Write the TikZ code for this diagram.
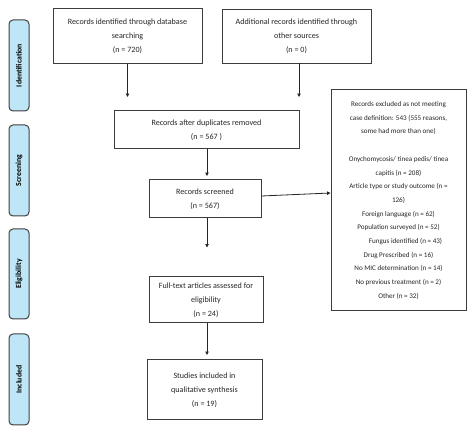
\documentclass[tikz,border=0pt]{standalone}
\usepackage{fontspec}
\setmainfont{Carlito}
\usetikzlibrary{arrows.meta}
\definecolor{sidefill}{RGB}{190,230,246}
\definecolor{boxline}{RGB}{60,60,60}
\begin{document}
\begin{tikzpicture}[x=1pt,y=1pt,
  box/.style={draw=boxline,line width=1pt,fill=white,inner sep=0pt,align=center,
    font=\fontsize{8.1pt}{14pt}\selectfont,text=black!85},
  small/.style={font=\fontsize{7.1pt}{13.7pt}\selectfont},
  side/.style={draw=black!75,line width=1pt,fill=sidefill,rounded corners=4pt,inner sep=0pt,
    rotate=90,font=\bfseries\fontsize{7.8pt}{9pt}\selectfont},
  arr/.style={draw=black!85,line width=0.8pt,-{Triangle[length=3.4pt,width=3.4pt]}}]
\useasboundingbox (0,0) rectangle (474,433);
% side labels (minimum width/height swapped due to rotation)
\node[side,minimum width=91pt,minimum height=20pt] (s1) at (19,367.5) {Identification};
\node[side,minimum width=91pt,minimum height=20pt] (s2) at (19,262.5) {Screening};
\node[side,minimum width=90pt,minimum height=20pt] (s3) at (19,159) {Eligibility};
\node[side,minimum width=91pt,minimum height=20pt] (s4) at (19,53.5) {Included};
% boxes
\node[box,minimum width=149pt,minimum height=55pt] (A) at (127.5,396.5)
  {Records identified through database\\searching\\(n = 720)};
\node[box,minimum width=149pt,minimum height=54pt] (B) at (296.5,396.5)
  {Additional records identified through\\other sources\\(n = 0)};
\node[box,minimum width=185pt,minimum height=38pt] (C) at (206.5,303)
  {Records after duplicates removed\\(n = 567 )};
\node[box,minimum width=112pt,minimum height=38pt] (D) at (205,234)
  {Records screened\\(n = 567)};
\node[box,small,minimum width=135pt,minimum height=221pt] (E) at (398.5,232.5)
  {Records excluded as not meeting\\case definition: 543 (555 reasons,\\some had more than one)\\[13.7pt]
   Onychomycosis/ tinea pedis/ tinea\\capitis (n = 208)\\Article type or study outcome (n =\\126)\\
   Foreign language (n = 62)\\Population surveyed (n = 52)\hspace*{22pt}\\
   \hspace*{14pt}Fungus identified (n = 43)\\Drug Prescribed (n = 16)\\No MIC determination (n = 14)\\
   No previous treatment (n = 2)\\Other (n = 32)};
\node[box,minimum width=114pt,minimum height=46pt] (F) at (206,133)
  {Full-text articles assessed for\\eligibility\\(n = 24)};
\node[box,minimum width=115pt,minimum height=60pt] (G) at (204.5,43)
  {Studies included in\\qualitative synthesis\\(n = 19)};
% free arrow ends
\coordinate (a1) at (A.south |- 0,336);
\coordinate (b1) at (299,336);
\coordinate (b0) at (299,369.5);
% connectors
\draw[arr] (A.south) -- (a1);
\draw[arr] (b0) -- (b1);
\draw[arr] (C.south -| 207,0) -- (207,257);
\draw[arr] ([yshift=3pt]D.east) -- ([yshift=7.5pt]E.west);
\draw[arr] (D.south -| 207,0) -- (207,185.5);
\draw[arr] (F.south -| 207,0) -- (207,78);
\end{tikzpicture}
\end{document}
